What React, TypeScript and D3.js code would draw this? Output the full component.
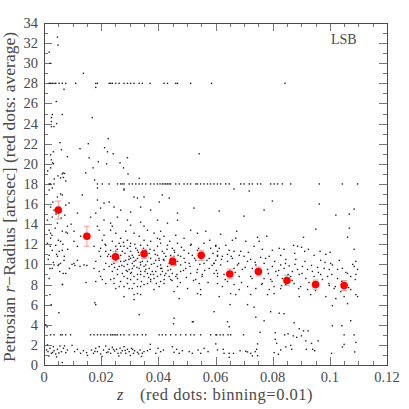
import React from "react";
import * as d3 from "d3";

// ---------- data ----------
const xMajorTicks = [0, 0.02, 0.04, 0.06, 0.08, 0.1, 0.12];
const xTickLabels = ["0", "0.02", "0.04", "0.06", "0.08", "0.1", "0.12"];
const yMajorTicks = [0, 2, 4, 6, 8, 10, 12, 14, 16, 18, 20, 22, 24, 26, 28, 30, 32, 34];
const yTickLabels = yMajorTicks.map(String);

// binned averages (red dots)
const redZ = [0.005, 0.015, 0.025, 0.035, 0.045, 0.055, 0.065, 0.075, 0.085, 0.095, 0.105];
const redR = [15.4, 12.8, 10.75, 11.05, 10.3, 10.9, 9.05, 9.3, 8.4, 8.0, 7.9];
const redErr = [0.9, 1.0, 0.5, 0.45, 0.45, 0.5, 0.48, 0.45, 0.5, 0.45, 0.5];

// discrete radius rows
const row28R = 28;
const row28Z = [0.0018, 0.0023, 0.0029, 0.0035, 0.0041, 0.0053, 0.0064, 0.0076, 0.0111, 0.0181, 0.0187, 0.0228, 0.0233, 0.0239, 0.0251, 0.0263, 0.028, 0.0292, 0.0303, 0.0315, 0.0333, 0.0344, 0.0371, 0.042, 0.0432, 0.0461, 0.0467, 0.0513, 0.0586, 0.0843];
const row18R = 18;
const row18Z = [0.0018, 0.0023, 0.0035, 0.0187, 0.0204, 0.0228, 0.0257, 0.0268, 0.0274, 0.028, 0.0298, 0.0309, 0.0321, 0.0333, 0.0344, 0.0356, 0.0373, 0.0385, 0.0397, 0.0406, 0.0414, 0.042, 0.0426, 0.0432, 0.0438, 0.0443, 0.0461, 0.0473, 0.049, 0.0502, 0.0513, 0.0531, 0.0537, 0.0548, 0.056, 0.0572, 0.0583, 0.0595, 0.0607, 0.0618, 0.0636, 0.0648, 0.0688, 0.07, 0.0718, 0.0729, 0.0747, 0.0758, 0.0793, 0.0805, 0.0817, 0.0834, 0.0863, 0.0963, 0.1044, 0.1097];
const row3R = 3;
const row3Z = [0.0023, 0.0035, 0.0058, 0.0064, 0.0076, 0.0093, 0.0163, 0.0175, 0.0187, 0.0198, 0.021, 0.0222, 0.0233, 0.0239, 0.0245, 0.0251, 0.0257, 0.0268, 0.028, 0.0298, 0.0315, 0.0327, 0.0344, 0.0356, 0.0403, 0.0414, 0.0426, 0.0443, 0.0461, 0.0478, 0.0496, 0.0513, 0.0525, 0.0548, 0.0583, 0.0601, 0.0604, 0.0616, 0.0627, 0.0644, 0.0653, 0.0698, 0.105, 0.1085];

// individual galaxies [z, r]
const upperPoints: [number, number][] = [
  [0.0047, 32.6], [0.0049, 31.8], [0.0018, 31.1], [0.0021, 30.0], [0.0138, 29.0], [0.007, 27.4], [0.0181, 27.6],
  [0.0043, 26.2], [0.0029, 24.9], [0.0064, 24.9], [0.0026, 24.6], [0.0169, 24.6], [0.0026, 24.2], [0.0035, 23.7],
  [0.0026, 23.7], [0.0044, 24.0], [0.0056, 22.1], [0.0225, 22.5], [0.0061, 21.4], [0.0126, 21.5], [0.0155, 22.0],
  [0.0212, 21.6], [0.0222, 21.2], [0.0242, 21.0], [0.0033, 21.2], [0.0023, 20.9], [0.0082, 20.7], [0.0158, 20.6],
  [0.019, 20.2], [0.0266, 20.1], [0.0292, 20.6], [0.0543, 21.0], [0.0026, 20.4], [0.0033, 20.0], [0.0023, 19.6],
  [0.0219, 20.0], [0.0172, 19.6], [0.0278, 19.6], [0.0146, 19.1], [0.0294, 19.0], [0.0049, 18.8], [0.0064, 19.0],
  [0.0072, 19.05], [0.0058, 18.6], [0.0068, 18.65], [0.0076, 18.3], [0.0177, 18.4], [0.0333, 18.55],
  [0.0029, 17.6], [0.0187, 17.6], [0.028, 17.5], [0.003, 20.1], [0.0067, 19.1], [0.0013, 19.3], [0.0036, 18.5],
];

const westCloud: [number, number][] = [
  [0.0047, 16.7], [0.0064, 16.9], [0.0018, 17.4], [0.028, 17.4], [0.0315, 16.7], [0.0327, 16.6], [0.035, 16.7],
  [0.0414, 16.9], [0.0403, 16.2], [0.0438, 16.6], [0.0134, 16.9], [0.0187, 16.4], [0.021, 16.1], [0.0228, 16.2], [0.0088, 16.1],
  [0.0023, 15.7], [0.0035, 15.4], [0.0076, 15.9], [0.0198, 15.6], [0.0245, 15.7], [0.0268, 15.4], [0.0303, 15.2],
  [0.0338, 15.7], [0.0373, 15.4], [0.0467, 15.1], [0.0525, 15.6], [0.0117, 15.1], [0.0181, 15.1],
  [0.0012, 14.4], [0.0029, 14.7], [0.0047, 14.1], [0.0163, 14.7], [0.021, 14.4], [0.0233, 14.1], [0.0257, 14.7],
  [0.0292, 14.4], [0.0303, 13.9], [0.0338, 14.2], [0.035, 13.8], [0.0397, 14.4], [0.0432, 14.1], [0.0467, 14.4],
  [0.0187, 13.8], [0.0239, 13.8], [0.0082, 13.8],
  [0.0018, 13.4], [0.0023, 13.1], [0.0064, 13.3], [0.0082, 13.1], [0.0105, 13.3], [0.0128, 12.8], [0.0193, 13.4],
  [0.021, 12.9], [0.0233, 13.4], [0.0251, 13.1], [0.0268, 12.6], [0.0286, 13.3], [0.0315, 13.1], [0.0333, 12.8],
  [0.0362, 13.4], [0.0385, 13.1], [0.0408, 13.3], [0.042, 12.8], [0.0461, 12.9], [0.049, 12.6], [0.0513, 13.4],
  [0.0537, 13.1], [0.0566, 13.3], [0.0023, 12.6], [0.0204, 12.4], [0.0292, 12.4], [0.035, 12.4], [0.0397, 12.6],
  [0.0012, 12.1], [0.0041, 11.9], [0.0058, 12.3], [0.0105, 12.3], [0.0117, 11.8], [0.0175, 11.8], [0.0198, 11.6],
  [0.0216, 11.9], [0.0233, 11.4], [0.0263, 12.1], [0.028, 11.8], [0.0303, 12.1], [0.0321, 11.6], [0.0338, 11.9],
  [0.0356, 11.4], [0.0373, 12.3], [0.0397, 11.8], [0.0414, 11.3], [0.0432, 11.9], [0.0449, 11.6], [0.0467, 12.1],
  [0.049, 11.4], [0.0513, 11.9], [0.0537, 11.4], [0.056, 12.1], [0.0583, 11.6], [0.0601, 11.9], [0.0303, 11.3],
  [0.0251, 11.3], [0.0193, 11.3], [0.0064, 11.4], [0.0053, 11.3], [0.0029, 11.4], [0.0607, 11.3],
  [0.0018, 10.9], [0.0047, 10.8], [0.007, 10.4], [0.0058, 10.1], [0.0105, 10.1], [0.0117, 10.4], [0.014, 9.95],
  [0.0181, 10.3], [0.0198, 10.8], [0.0216, 10.1], [0.0268, 10.9], [0.0286, 10.4], [0.0298, 10.8], [0.0309, 10.1],
  [0.0321, 10.4], [0.0333, 10.9], [0.0338, 9.95], [0.0362, 10.3], [0.0373, 10.6], [0.0385, 10.1], [0.0397, 10.9],
  [0.0408, 9.95], [0.042, 10.4], [0.0426, 10.8], [0.0443, 10.9], [0.0467, 10.3], [0.0478, 9.95], [0.049, 10.6],
  [0.0508, 10.1], [0.0519, 10.9], [0.0531, 10.4], [0.056, 10.1], [0.0578, 10.6], [0.0595, 10.1], [0.0607, 10.8],
  [0.0327, 10.6], [0.035, 9.8], [0.028, 9.8], [0.0233, 10.8], [0.0035, 9.95], [0.0292, 10.0], [0.0315, 9.85],
  [0.0029, 9.6], [0.0076, 9.1], [0.0175, 9.6], [0.0193, 9.3], [0.021, 9.5], [0.0257, 9.5], [0.0274, 9.1],
  [0.0292, 9.3], [0.0309, 9.6], [0.0327, 9.0], [0.0338, 9.3], [0.0356, 9.5], [0.0373, 9.0], [0.0391, 9.3],
  [0.0408, 9.6], [0.0426, 9.1], [0.0443, 9.5], [0.0461, 8.8], [0.0478, 9.3], [0.0496, 9.6], [0.0513, 9.1],
  [0.0537, 9.5], [0.0554, 9.0], [0.0578, 9.6], [0.0595, 9.1], [0.0607, 8.8], [0.0198, 8.8], [0.0245, 8.6],
  [0.0292, 8.6], [0.0327, 8.5], [0.0373, 8.5], [0.042, 8.5], [0.0467, 8.6], [0.0531, 8.5], [0.035, 8.8], [0.0397, 8.8],
  [0.0064, 8.0], [0.0181, 8.3], [0.0204, 8.5], [0.0245, 8.1], [0.0268, 8.3], [0.028, 7.8], [0.0298, 7.6],
  [0.0315, 8.1], [0.0327, 7.8], [0.035, 8.0], [0.0373, 8.3], [0.0403, 7.8], [0.042, 8.1], [0.0443, 8.5],
  [0.0467, 7.8], [0.0502, 7.6], [0.0543, 8.1], [0.0548, 7.5], [0.0251, 7.6], [0.0309, 7.6], [0.0385, 7.5],
  [0.0455, 7.3], [0.0537, 7.1],
  [0.0315, 7.0], [0.0327, 7.1], [0.0338, 7.0], [0.028, 6.8], [0.0548, 7.0], [0.0473, 6.6], [0.0181, 6.0],
  [0.0315, 6.5], [0.0333, 5.0], [0.0455, 4.65], [0.0519, 4.3], [0.0595, 5.3],
  [0.0239, 12.3], [0.0251, 11.8], [0.0274, 11.3], [0.0292, 11.6], [0.0309, 10.9], [0.0327, 11.4], [0.0344, 10.8],
  [0.0368, 11.1], [0.0385, 11.4], [0.0403, 10.4], [0.042, 11.1], [0.0438, 10.1], [0.0455, 10.8], [0.0245, 10.1],
  [0.0263, 9.8], [0.028, 10.3], [0.0298, 9.5], [0.0315, 10.3], [0.0333, 9.6], [0.0344, 10.3], [0.0356, 9.95],
  [0.0368, 9.6], [0.0379, 9.3], [0.0397, 9.8], [0.0414, 9.3], [0.0432, 9.8], [0.0449, 9.1], [0.0461, 9.95],
  [0.0239, 9.3], [0.0257, 9.0], [0.028, 8.8], [0.0303, 9.1], [0.0315, 8.8], [0.0338, 9.0], [0.0362, 9.1],
  [0.0385, 8.6], [0.0408, 9.0], [0.0438, 8.8], [0.0268, 10.3], [0.0303, 10.6], [0.035, 10.6], [0.0391, 10.4],
  [0.0443, 10.4], [0.0478, 10.8], [0.0222, 10.8], [0.0228, 9.8], [0.0251, 10.4], [0.0216, 11.3], [0.0268, 11.8],
  [0.0362, 11.9], [0.0408, 12.1], [0.0455, 11.4], [0.0292, 8.1], [0.0338, 7.8], [0.0362, 8.1], [0.0263, 7.8],
  [0.0408, 8.3], [0.0303, 8.5], [0.0233, 8.5], [0.0216, 8.1],
  [0.0021, 9.6], [0.0049, 9.9], [0.0052, 10.0], [0.0098, 10.0], [0.0108, 9.9], [0.0126, 9.8], [0.015, 9.9],
  [0.0067, 9.1], [0.0021, 7.0], [0.0065, 8.0], [0.0147, 8.2], [0.0178, 6.2],
  // denser core
  [0.0214, 12.0], [0.0226, 11.0], [0.0237, 10.0], [0.0247, 9.7], [0.0256, 11.5], [0.0261, 10.6], [0.0272, 9.9],
  [0.0278, 12.2], [0.0283, 11.1], [0.0288, 9.4], [0.0297, 10.5], [0.0301, 11.8], [0.0306, 9.2], [0.0313, 10.7],
  [0.0318, 12.0], [0.0325, 9.7], [0.033, 11.2], [0.0337, 10.2], [0.0341, 8.3], [0.0348, 11.6], [0.0353, 9.3],
  [0.0359, 10.9], [0.0366, 8.7], [0.0371, 11.5], [0.0376, 10.0], [0.0383, 9.0], [0.0389, 11.0], [0.0393, 8.1],
  [0.0402, 10.6], [0.0405, 12.5], [0.0412, 9.6], [0.0418, 10.5], [0.0422, 8.9], [0.043, 11.5], [0.0434, 9.4],
  [0.044, 12.3], [0.0448, 8.4], [0.0451, 10.0], [0.0457, 11.2], [0.0465, 9.0], [0.0469, 10.9], [0.0477, 8.2],
  [0.0481, 11.7], [0.0488, 9.4], [0.0494, 10.2], [0.0498, 8.7], [0.0506, 11.1], [0.0511, 9.8], [0.0515, 12.0],
  [0.0523, 8.4], [0.0527, 10.6], [0.0535, 9.2], [0.0541, 11.6], [0.0545, 10.0], [0.0553, 8.8], [0.0558, 11.0],
  [0.0562, 9.4], [0.057, 10.4], [0.0574, 8.2], [0.058, 12.4], [0.0588, 9.9], [0.0591, 11.1],
  // low-z column
  [0.0015, 10.5], [0.0022, 11.8], [0.0028, 12.9], [0.0033, 10.2], [0.0039, 13.6], [0.0044, 11.0], [0.005, 12.4],
  [0.0055, 9.3], [0.006, 14.6], [0.0066, 12.0], [0.0071, 10.8], [0.0077, 13.2], [0.0083, 11.5], [0.0089, 9.6],
  [0.0095, 14.0], [0.0018, 8.6], [0.0031, 16.2], [0.0042, 15.0], [0.0058, 17.0], [0.0073, 14.9], [0.0025, 6.0],
  [0.0052, 5.2], [0.0011, 3.8],
];

const eastCloud: [number, number][] = [
  [0.0665, 17.5], [0.0718, 17.3], [0.0799, 16.3], [0.0963, 16.0], [0.0613, 15.3], [0.077, 15.4], [0.07, 14.8],
  [0.1021, 14.9], [0.1068, 15.0], [0.1085, 15.5],
  [0.0618, 13.0], [0.0674, 13.3], [0.0951, 13.5], [0.1068, 13.6], [0.1062, 12.7], [0.0747, 12.7], [0.0779, 12.8],
  [0.0706, 12.3], [0.0659, 12.4], [0.0671, 12.6], [0.0908, 12.7],
  [0.0601, 11.8], [0.0613, 11.6], [0.0636, 11.9], [0.0648, 11.4], [0.0665, 11.3], [0.0688, 11.3], [0.0735, 11.8],
  [0.0753, 12.3], [0.0764, 11.5], [0.0799, 11.4], [0.0823, 11.6], [0.084, 11.5], [0.0873, 11.9], [0.0887, 11.8],
  [0.0901, 11.7], [0.0912, 11.3], [0.0925, 11.5], [0.0966, 11.3], [0.0986, 11.0], [0.1001, 11.2], [0.1085, 11.5],
  [0.0607, 10.9], [0.0624, 10.8], [0.0642, 11.0], [0.0659, 10.6], [0.0683, 10.9], [0.07, 10.8], [0.0723, 10.5],
  [0.0758, 10.7], [0.0788, 10.8], [0.0828, 10.9], [0.0846, 10.5], [0.0877, 11.1], [0.0881, 10.5], [0.0945, 10.9],
  [0.0968, 10.4], [0.1003, 10.1], [0.1091, 10.3], [0.0601, 10.4],
  [0.0595, 10.1], [0.0618, 9.95], [0.0642, 10.3], [0.0665, 9.6], [0.0677, 9.95], [0.0694, 9.5], [0.0712, 10.3],
  [0.0729, 9.6], [0.0741, 9.95], [0.077, 10.1], [0.0782, 9.5], [0.0799, 9.8], [0.0811, 9.3], [0.0828, 9.95],
  [0.084, 9.6], [0.0858, 9.85], [0.0869, 9.3], [0.0887, 9.5], [0.0904, 9.8], [0.0922, 9.5], [0.0939, 9.3],
  [0.0957, 9.7], [0.098, 9.6], [0.0998, 9.5], [0.1009, 9.95], [0.1027, 9.5], [0.1044, 9.6], [0.1062, 9.1],
  [0.1085, 9.8], [0.1097, 9.5], [0.0607, 9.1], [0.063, 9.0], [0.0683, 8.8], [0.0723, 8.8], [0.0747, 9.0],
  [0.077, 8.6], [0.0793, 8.5], [0.0817, 8.9], [0.0834, 8.6], [0.0863, 8.8], [0.0893, 9.0], [0.0916, 8.6],
  [0.0945, 8.8], [0.0968, 9.0], [0.0992, 8.8], [0.1027, 8.6], [0.1073, 8.8], [0.1091, 9.0],
  [0.0607, 8.1], [0.0624, 7.8], [0.0642, 8.3], [0.0665, 8.0], [0.0683, 7.5], [0.0712, 7.8], [0.0741, 7.6],
  [0.0764, 8.1], [0.0788, 7.5], [0.0805, 7.8], [0.0828, 7.6], [0.0846, 8.0], [0.0875, 8.1], [0.0898, 7.8],
  [0.0922, 7.5], [0.0945, 7.8], [0.0998, 7.9], [0.1015, 7.6], [0.1038, 7.3], [0.1073, 7.5], [0.1091, 7.0],
  [0.0613, 6.8], [0.0653, 7.1], [0.0671, 7.0], [0.0723, 7.0], [0.0782, 7.0], [0.0805, 7.1], [0.0893, 6.8],
  [0.0933, 7.0], [0.0986, 6.8], [0.1021, 6.6], [0.105, 6.8], [0.1097, 6.8],
  [0.0651, 6.0], [0.0712, 6.0], [0.0735, 5.75], [0.1009, 5.9], [0.1062, 6.1], [0.0793, 5.3], [0.0823, 5.15],
  [0.084, 5.1], [0.0741, 4.75], [0.077, 4.4], [0.0875, 4.2], [0.0893, 3.6], [0.0642, 4.3], [0.0648, 3.8],
  [0.1009, 3.9], [0.1073, 4.4], [0.1042, 3.9],
  // denser core
  [0.0603, 9.4], [0.0621, 10.5], [0.0634, 8.5], [0.0655, 10.8], [0.0669, 9.2], [0.0681, 10.1], [0.0691, 8.2],
  [0.0704, 9.7], [0.0715, 11.2], [0.0728, 8.6], [0.0739, 10.2], [0.0751, 9.3], [0.0761, 8.0], [0.0775, 10.6],
  [0.0785, 9.1], [0.0798, 8.3], [0.0807, 10.3], [0.0821, 9.4], [0.0831, 7.9], [0.0845, 10.1], [0.0854, 9.0],
  [0.0868, 8.4], [0.0878, 10.0], [0.0891, 7.6], [0.0903, 9.1], [0.0913, 10.3], [0.0927, 8.2], [0.0936, 9.9],
  [0.095, 7.4], [0.096, 9.2], [0.0974, 8.5], [0.0983, 10.2], [0.0997, 8.1], [0.1007, 9.0], [0.1019, 7.8],
  [0.1033, 10.4], [0.1042, 8.3], [0.1056, 9.2], [0.1066, 7.7], [0.108, 10.0], [0.1089, 8.5],
];

const lowPoints: [number, number][] = [
  [0.0756, 3.25], [0.0809, 3.2], [0.0842, 3.0], [0.0854, 3.1], [0.0872, 2.9], [0.0884, 2.75], [0.0901, 2.9],
  [0.0908, 3.4], [0.0924, 3.4], [0.0809, 2.55], [0.0814, 2.15], [0.0916, 2.4], [0.0936, 2.15], [0.0959, 2.4],
  [0.1044, 1.8], [0.105, 2.05], [0.0747, 2.1], [0.0601, 2.1], [0.1091, 2.25],
  [0.0607, 1.5], [0.0627, 1.56], [0.063, 1.16], [0.0648, 1.16], [0.0663, 1.16], [0.0686, 1.42], [0.0706, 1.36],
  [0.0712, 1.3], [0.0723, 1.16], [0.0739, 1.33], [0.0744, 1.56], [0.0805, 1.23], [0.082, 1.06], [0.0828, 1.5],
  [0.0846, 1.8], [0.0863, 1.95], [0.0867, 1.56], [0.0918, 1.56], [0.094, 1.56], [0.0947, 1.42], [0.1006, 1.16],
  [0.1087, 1.3], [0.0648, 0.76], [0.0729, 0.9], [0.0747, 0.93],
  [0.0453, 4.1], [0.0522, 4.3], [0.0006, 4.0], [0.0064, 0.25],
];

const bandPoints: [number, number][] = [
  [0.0014, 1.33], [0.0021, 1.66], [0.0026, 1.16], [0.0033, 1.82], [0.0035, 1.42], [0.0041, 1.1], [0.0047, 1.56],
  [0.0056, 1.89], [0.0061, 1.33], [0.0068, 1.66], [0.0076, 1.23], [0.0082, 1.49], [0.0107, 1.33], [0.0117, 1.56],
  [0.0128, 1.16], [0.0138, 1.42], [0.0149, 1.23], [0.0166, 1.49], [0.0173, 1.16], [0.0181, 1.66], [0.0187, 1.33],
  [0.0193, 1.82], [0.0198, 1.1], [0.0208, 1.49], [0.0216, 1.89], [0.0219, 1.23], [0.0228, 1.56], [0.0233, 1.16],
  [0.0239, 1.76], [0.0247, 1.39], [0.0254, 1.56], [0.0259, 1.16], [0.0266, 1.66], [0.0274, 1.42], [0.028, 1.82],
  [0.0286, 1.16], [0.0292, 1.56], [0.0298, 1.33], [0.0306, 1.66], [0.0313, 1.16], [0.0317, 1.42], [0.0327, 1.26],
  [0.0336, 1.49], [0.0344, 1.16], [0.035, 1.33], [0.0362, 1.42], [0.0371, 1.56], [0.0391, 1.16], [0.0399, 1.66],
  [0.0408, 1.33], [0.0418, 1.49], [0.0449, 1.82], [0.0455, 1.26], [0.0464, 1.56], [0.0473, 1.16], [0.0484, 1.42],
  [0.0508, 1.33], [0.0519, 1.16], [0.0539, 1.49], [0.0548, 1.16], [0.056, 1.66], [0.0574, 1.33],
  [0.0017, 0.9], [0.0044, 0.8], [0.0152, 0.95], [0.0203, 0.85], [0.0262, 0.9], [0.0302, 0.95], [0.0341, 0.85],
  [0.0012, 2.0], [0.0098, 1.95], [0.0372, 2.05],
  [0.0009, 1.5], [0.003, 1.25], [0.0052, 1.2], [0.0072, 1.9], [0.0178, 1.35], [0.0224, 1.3], [0.0243, 1.55],
  [0.0269, 1.2], [0.0284, 1.45], [0.031, 1.55], [0.0331, 1.1],
];

// ---------- layout ----------
const W = 409;
const H = 409;
const left = 44;
const right = 387;
const top = 23;
const bottom = 365;

const x = d3.scaleLinear().domain([0, 0.12]).range([left, right]);
const y = d3.scaleLinear().domain([0, 34]).range([bottom, top]);

const xMinor = d3.range(0, 0.12001, 0.005);
const yMinor = d3.range(0, 34.001, 1);

const FONT = "'Liberation Serif', 'Times New Roman', serif";
const TEXT = "#4a4a4a";
const TICK = "#777";

export default function App() {
  const rows: [number, number][] = [
    ...row28Z.map((z) => [z, row28R] as [number, number]),
    ...row18Z.map((z) => [z, row18R] as [number, number]),
    ...row3Z.map((z) => [z, row3R] as [number, number]),
  ];
  const allDots = [...rows, ...upperPoints, ...westCloud, ...eastCloud, ...lowPoints, ...bandPoints];

  return (
    <svg
      width={W}
      height={H}
      viewBox={`0 0 ${W} ${H}`}
      style={{ position: "absolute", left: 0, top: 0, background: "#fff" }}
    >
      <rect x={0} y={0} width={W} height={H} fill="#fff" />

      {/* ticks */}
      <g stroke={TICK} strokeWidth={1}>
        {xMinor.map((v, i) => {
          const major = i % 4 === 0;
          const len = major ? 8 : 4;
          const px = Math.round(x(v)) + 0.5;
          return (
            <g key={"xt" + i}>
              <line x1={px} x2={px} y1={bottom} y2={bottom - len} />
              <line x1={px} x2={px} y1={top} y2={top + len} />
            </g>
          );
        })}
        {yMinor.map((v, i) => {
          const major = i % 2 === 0;
          const len = major ? 8 : 4;
          const py = Math.round(y(v)) + 0.5;
          return (
            <g key={"yt" + i}>
              <line x1={left} x2={left + len} y1={py} y2={py} />
              <line x1={right} x2={right - len} y1={py} y2={py} />
            </g>
          );
        })}
      </g>

      {/* frame */}
      <rect
        x={left + 0.5}
        y={top + 0.5}
        width={right - left}
        height={bottom - top}
        fill="none"
        stroke="#4a4a4a"
        strokeWidth={1}
      />

      {/* scatter dots */}
      <g fill="#222">
        {allDots.map((d, i) => (
          <rect key={"d" + i} x={x(d[0]) - 0.7} y={y(d[1]) - 0.7} width={1.4} height={1.4} />
        ))}
      </g>

      {/* error bars */}
      <g stroke="#f29a9a" strokeWidth={1}>
        {redZ.map((z, i) => {
          const cx = x(z);
          const y1 = y(redR[i] + redErr[i]);
          const y2 = y(redR[i] - redErr[i]);
          return (
            <g key={"e" + i}>
              <line x1={cx} x2={cx} y1={y1} y2={y2} />
              <line x1={cx - 3} x2={cx + 3} y1={y1} y2={y1} />
              <line x1={cx - 3} x2={cx + 3} y1={y2} y2={y2} />
            </g>
          );
        })}
      </g>
      <g fill="#ff0000">
        {redZ.map((z, i) => (
          <circle key={"r" + i} cx={x(z)} cy={y(redR[i])} r={3.8} />
        ))}
      </g>

      {/* tick labels */}
      <g fontFamily={FONT} fontSize={14.5} fill={TEXT}>
        {xMajorTicks.map((v, i) => (
          <text key={"xl" + i} x={x(v)} y={381.5} textAnchor="middle">
            {xTickLabels[i]}
          </text>
        ))}
        {yMajorTicks.map((v, i) => (
          <text key={"yl" + i} x={38} y={y(v) + 5} textAnchor="end">
            {yTickLabels[i]}
          </text>
        ))}
      </g>

      {/* LSB */}
      <text x={331} y={43.5} fontFamily={FONT} fontSize={14} fill={TEXT}>
        LSB
      </text>

      {/* axis titles */}
      <text x={117} y={399.5} fontFamily={FONT} fontSize={16.5} fill={TEXT}>
        <tspan fontStyle="italic">z</tspan>
        <tspan x={140} letterSpacing={0.5}>(red dots: binning=0.01)</tspan>
      </text>
      <text
        transform="translate(14.5,197) rotate(-90)"
        textAnchor="middle"
        fontFamily={FONT}
        fontSize={17.5}
        fill={TEXT}
      >
        Petrosian <tspan fontStyle="italic">r</tspan>−Radius [arcsec] (red dots: average)
      </text>
    </svg>
  );
}
